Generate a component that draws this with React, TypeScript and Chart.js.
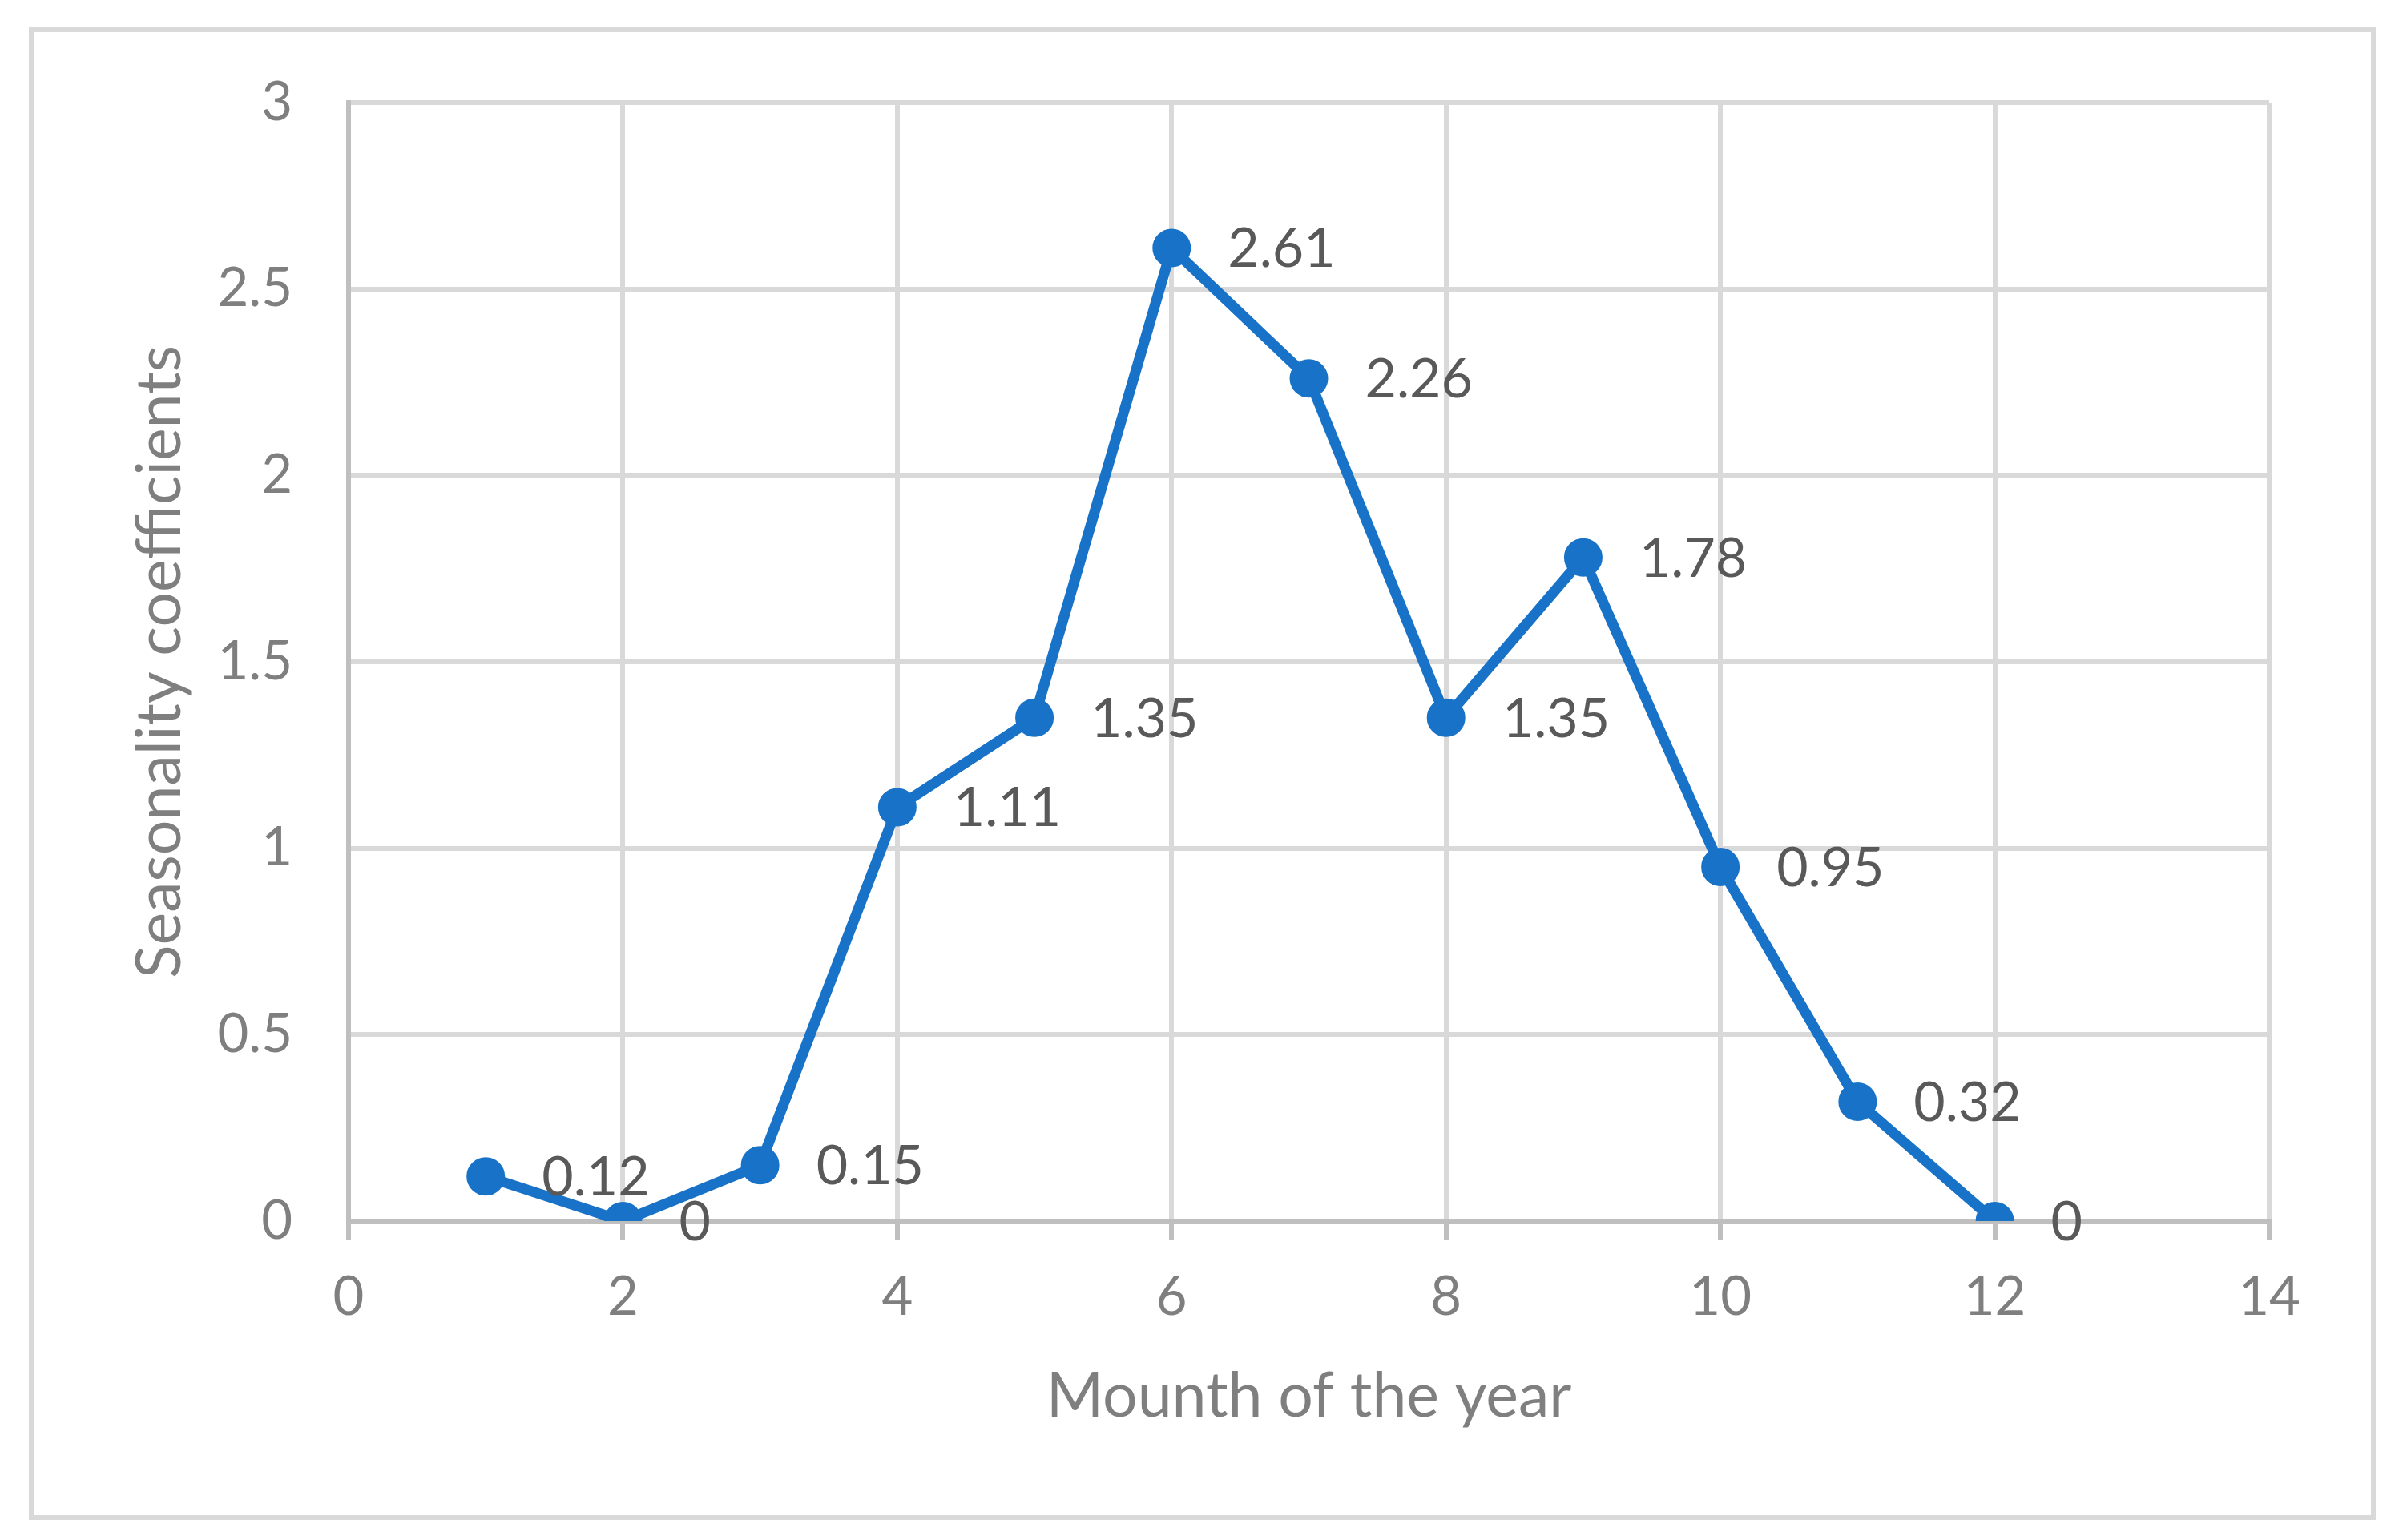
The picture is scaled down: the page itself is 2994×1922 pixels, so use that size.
import React, { useEffect, useRef } from 'react';
import { Chart, registerables } from 'chart.js';

Chart.register(...registerables);

// ---- Data ----
const months = [1, 2, 3, 4, 5, 6, 7, 8, 9, 10, 11, 12];
const coefficients = [0.12, 0, 0.15, 1.11, 1.35, 2.61, 2.26, 1.35, 1.78, 0.95, 0.32, 0];
const xTickLabels = ['0', '2', '4', '6', '8', '10', '12', '14'];
const yTickLabels = ['0', '0.5', '1', '1.5', '2', '2.5', '3'];
const xTitle = 'Mounth of the year';
const yTitle = 'Seasonality coefficients';

const FONT = 'Lato';
const W = 2994;
const H = 1922;

const frameBorder = {
  id: 'frameBorder',
  beforeDraw(chart: any) {
    const ctx = chart.ctx;
    ctx.save();
    ctx.fillStyle = '#ffffff';
    ctx.fillRect(0, 0, chart.width, chart.height);
    ctx.strokeStyle = '#d9d9d9';
    ctx.lineWidth = 6;
    ctx.strokeRect(39, 37, 2962 - 39, 1894 - 37);
    ctx.restore();
  },
};

const pointLabels = {
  id: 'pointLabels',
  afterDatasetsDraw(chart: any) {
    const ctx = chart.ctx;
    const meta = chart.getDatasetMeta(0);
    ctx.save();
    ctx.font = `68px ${FONT}`;
    ctx.fillStyle = '#595959';
    ctx.textAlign = 'left';
    ctx.textBaseline = 'middle';
    meta.data.forEach((pt: any, i: number) => {
      ctx.fillText(String(coefficients[i]), pt.x + 70, pt.y + 2);
    });
    ctx.restore();
  },
};

export default function App() {
  const ref = useRef<HTMLCanvasElement | null>(null);

  useEffect(() => {
    document.body.style.margin = '0';
    const canvas = ref.current;
    if (!canvas) return;
    const chart = new Chart(canvas, {
      type: 'line',
      data: {
        datasets: [
          {
            label: 'Seasonality coefficients',
            data: months.map((m, i) => ({ x: m, y: coefficients[i] })),
            borderColor: '#1873C8',
            backgroundColor: '#1873C8',
            borderWidth: 13,
            pointRadius: 23,
            pointBorderWidth: 2,
            pointBorderColor: '#1873C8',
            pointBackgroundColor: '#1873C8',
            tension: 0,
            fill: false,
          },
        ],
      },
      options: {
        responsive: false,
        animation: false,
        devicePixelRatio: 1,
        layout: { padding: { left: 0, top: 128, right: 162, bottom: 0 } },
        plugins: {
          legend: { display: false },
          tooltip: { enabled: false },
          title: { display: false },
        },
        scales: {
          x: {
            type: 'linear',
            min: 0,
            max: 14,
            afterFit: (s: any) => {
              s.height = 398;
            },
            ticks: {
              stepSize: 2,
              color: '#7f7f7f',
              font: { family: FONT, size: 67 },
              padding: 31,
              maxRotation: 0,
              callback: (v: any, i: number) => xTickLabels[i] ?? String(v),
            },
            grid: {
              color: '#d9d9d9',
              lineWidth: 6,
              drawTicks: true,
              tickLength: 24,
              tickColor: '#bfbfbf',
              tickWidth: 6,
            },
            border: { display: true, color: '#bfbfbf', width: 6 },
            title: {
              display: true,
              text: xTitle,
              color: '#7f7f7f',
              font: { family: FONT, size: 77 },
              padding: { top: 0, bottom: 133 },
            },
          },
          y: {
            type: 'linear',
            min: 0,
            max: 3,
            afterFit: (s: any) => {
              s.width = 435;
            },
            ticks: {
              stepSize: 0.5,
              color: '#7f7f7f',
              font: { family: FONT, size: 67 },
              padding: 70,
              callback: (v: any, i: number) => yTickLabels[i] ?? String(v),
            },
            grid: {
              color: '#d9d9d9',
              lineWidth: 6,
              drawTicks: false,
            },
            border: { display: true, color: '#bfbfbf', width: 6 },
            title: {
              display: true,
              text: yTitle,
              color: '#7f7f7f',
              font: { family: FONT, size: 77 },
              padding: { top: 154, bottom: 0 },
            },
          },
        },
      },
      plugins: [frameBorder, pointLabels],
    });
    return () => chart.destroy();
  }, []);

  return (
    <canvas
      ref={ref}
      width={W}
      height={H}
      style={{ display: 'block', width: W + 'px', height: H + 'px' }}
    />
  );
}
